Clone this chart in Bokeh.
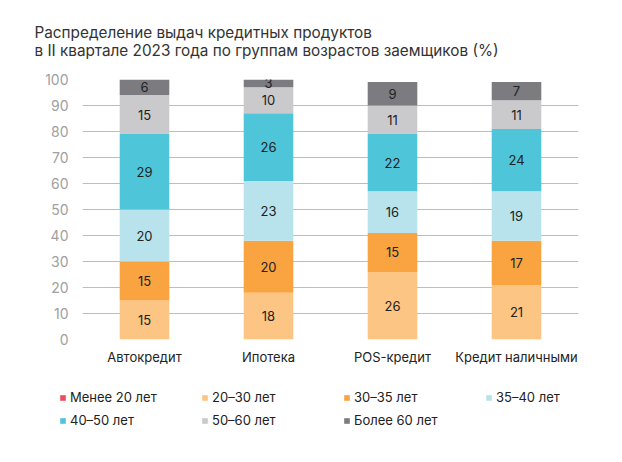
from bokeh.plotting import figure
from bokeh.models import (ColumnDataSource, FactorRange, FixedTicker, Legend, LegendItem, Label)
from bokeh.layouts import column
from bokeh.core.properties import value
from bokeh.embed import file_html
from bokeh.resources import INLINE

categories = ["Автокредит", "Ипотека", "POS-кредит", "Кредит наличными"]
series_names = ["Менее 20 лет", "20–30 лет", "30–35 лет", "35–40 лет", "40–50 лет", "50–60 лет", "Более 60 лет"]
under20 = [0, 0, 0, 0]
age20_30 = [15, 18, 26, 21]
age30_35 = [15, 20, 15, 17]
age35_40 = [20, 23, 16, 19]
age40_50 = [29, 26, 22, 24]
age50_60 = [15, 10, 11, 11]
over60 = [6, 3, 9, 7]
colors = ["#f04b5a", "#fdc584", "#f9a440", "#b9e3ec", "#4fc5da", "#cacacc", "#7b7b80"]
y_ticks = [0, 10, 20, 30, 40, 50, 60, 70, 80, 90, 100]
title_lines = ["Распределение выдач кредитных продуктов",
               "в II квартале 2023 года по группам возрастов заемщиков (%)"]

FONT = "Inter"
W = 622
series = [under20, age20_30, age30_35, age35_40, age40_50, age50_60, over60]
keys = ["s%d" % i for i in range(len(series))]
data = {"cat": categories}
for k, s in zip(keys, series):
    data[k] = s
source = ColumnDataSource(data)


def bare(h):
    f = figure(width=W, height=h, x_range=(0, 1), y_range=(0, 1), output_backend="svg",
               toolbar_location=None, min_border=0, min_border_left=0, min_border_right=0,
               min_border_top=0, min_border_bottom=0, frame_align=False)
    f.axis.visible = False
    f.grid.visible = False
    f.outline_line_color = None
    return f


# ---- title
tf = bare(70)
for i, t in enumerate(title_lines):
    tf.add_layout(Label(x=34, y=38 - 18 * i, x_units="screen", y_units="screen", text=t,
                        text_font=FONT, text_font_size="15.3px", text_color="#333333",
                        text_baseline="middle", text_align="left"))

# ---- main chart
p = figure(x_range=FactorRange(factors=categories), y_range=(0, 100),
           width=W, height=300, output_backend="svg", toolbar_location=None,
           min_border_left=82, min_border_right=44, min_border_top=9, min_border_bottom=31,
           frame_align=False)
p.outline_line_color = None

renderers = p.vbar_stack(keys, x="cat", width=0.4, source=source, color=colors, line_color=None)

lx, ly, lt = [], [], []
for j, c in enumerate(categories):
    base = 0
    for s in series:
        v = s[j]
        if v > 0:
            lx.append(c)
            ly.append(base + v / 2)
            lt.append(str(v))
        base += v
p.text(x=lx, y=ly, text=lt, text_align="center", text_baseline="middle",
       text_font=value(FONT), text_font_size="13px", text_color="#222222")

p.yaxis.ticker = FixedTicker(ticks=y_ticks)
p.yaxis.axis_line_color = None
p.yaxis.major_tick_line_color = None
p.yaxis.minor_tick_line_color = None
p.yaxis.major_tick_out = 0
p.yaxis.minor_tick_out = 0
p.yaxis.major_label_standoff = 14
p.yaxis.major_label_text_font = FONT
p.yaxis.major_label_text_font_size = "14px"
p.yaxis.major_label_text_color = "#a0a0a0"

p.xaxis.axis_line_color = None
p.xaxis.major_tick_line_color = None
p.xaxis.minor_tick_line_color = None
p.xaxis.major_tick_out = 0
p.xaxis.minor_tick_out = 0
p.xaxis.major_label_standoff = 9
p.xaxis.major_label_text_font = FONT
p.xaxis.major_label_text_font_size = "13px"
p.xaxis.major_label_text_color = "#222222"

p.xgrid.grid_line_color = None
p.ygrid.ticker = FixedTicker(ticks=y_ticks)
p.ygrid.grid_line_color = "#bdbdbd"
p.ygrid.grid_line_width = 1

# ---- legend
lf = bare(92)
dummy = ColumnDataSource(dict(x=[10], top=[10]))
items = []
for n, c in zip(series_names, colors):
    r = lf.vbar(x="x", top="top", width=1, source=dummy, color=c, line_color=None)
    items.append(LegendItem(label=n, renderers=[r]))
legend = Legend(items=items, location=(59, 32), orientation="horizontal", ncols=4,
                glyph_width=7, glyph_height=7, label_standoff=4, label_width=128,
                label_height=20, spacing=3, padding=0, margin=0,
                border_line_color=None, background_fill_alpha=0,
                label_text_font=FONT, label_text_font_size="13px", label_text_color="#222222")
lf.add_layout(legend, "center")

layout = column(tf, p, lf, spacing=0)
open("out.html", "w").write(file_html(layout, INLINE))
